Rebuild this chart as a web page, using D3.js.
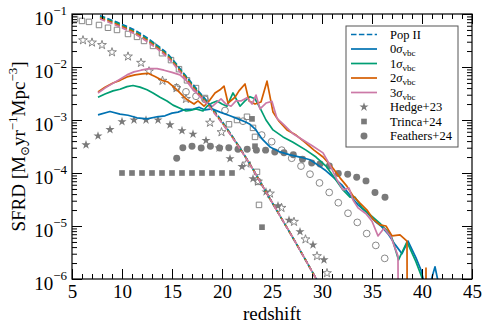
<!DOCTYPE html>
<html>
<head>
<meta charset="utf-8">
<script src="https://cdn.jsdelivr.net/npm/d3@7"></script>
<style>
body { margin: 0; background: #fff; }
svg text { font-family: "Liberation Serif", "DejaVu Serif", serif; fill: #000; }
</style>
</head>
<body>
<script>
// Pop II (dashed), one curve per streaming velocity
var zPop = [7.8, 9.8, 11.5, 13.1, 14.8, 16.1, 17.3, 18.8, 20.5, 22.5, 25.0, 27.5, 29.5, 30.3];
var pop0 = [9.3e-2, 6.6e-2, 4.7e-2, 2.95e-2, 1.58e-2, 7.9e-3, 4.2e-3, 1.91e-3, 6.9e-4, 1.82e-4, 2.8e-5, 4.4e-6, 9.5e-7, 5.2e-7];
var pop1 = [8.9e-2, 6.3e-2, 4.4e-2, 2.8e-2, 1.5e-2, 7.6e-3, 3.98e-3, 1.82e-3, 6.8e-4, 1.8e-4, 2.8e-5, 4.4e-6, 9.5e-7, 5.2e-7];
var pop2 = [8.5e-2, 6.0e-2, 4.2e-2, 2.65e-2, 1.43e-2, 7.2e-3, 3.76e-3, 1.76e-3, 6.6e-4, 1.79e-4, 2.8e-5, 4.4e-6, 9.5e-7, 5.2e-7];
var pop3 = [8.05e-2, 5.69e-2, 3.98e-2, 2.51e-2, 1.35e-2, 6.8e-3, 3.55e-3, 1.70e-3, 6.5e-4, 1.78e-4, 2.8e-5, 4.4e-6, 9.5e-7, 5.2e-7];

// Pop III, 0 sigma_vbc
var z0 = [7.6, 8.8, 9.8, 10.6, 11.5, 12.5, 13.5, 14.3, 15.0, 15.6, 16.3, 17.0, 17.7, 18.3, 19.0, 19.8, 20.8, 21.6, 22.3, 22.8,
    23.4, 24.0, 24.8, 25.8, 26.8, 27.8, 28.8, 29.6, 30.4, 31.2, 32.0, 32.8, 33.6, 34.5, 35.3, 35.9, 36.6, 37.3, 38.0, 38.6,
    39.4, 39.9, 40.5, 41.3, 42.0];
var s0 = [1.25e-3, 1.45e-3, 1.29e-3, 1.23e-3, 1.10e-3, 1.05e-3, 1.15e-3, 1.20e-3, 1.35e-3, 1.41e-3, 1.58e-3, 1.58e-3, 1.74e-3, 1.55e-3, 1.62e-3, 1.41e-3, 1.20e-3, 1.05e-3, 9.3e-4, 8.3e-4,
    6.5e-4, 4.4e-4, 3.1e-4, 2.5e-4, 2.2e-4, 2.0e-4, 1.78e-4, 1.41e-4, 1.10e-4, 8.1e-5, 5.9e-5, 3.8e-5, 2.5e-5, 1.78e-5, 1.23e-5, 1.0e-5, 7.1e-6, 4.5e-6, 3.0e-6, 5.2e-6,
    2.5e-6, 1.48e-6, 5e-7, 1.7e-6, 4e-7];

// 1 sigma_vbc
var z1 = [7.6, 8.3, 9.1, 9.8, 10.5, 11.1, 11.8, 12.5, 13.1, 13.8, 14.5, 15.1, 15.8, 16.4, 16.8, 17.4, 18.1, 18.5, 19.0, 19.5,
    20.0, 20.5, 21.1, 21.8, 22.3, 22.8, 23.3, 23.8, 24.4, 25.1, 26.1, 27.1, 28.4, 29.4, 30.4, 31.2, 32.1, 32.8, 33.3, 34.0,
    35.0, 35.8, 36.6, 37.0, 37.65, 38.5, 39.4, 40.1, 40.6];
var s1 = [2.69e-3, 3.09e-3, 3.55e-3, 3.80e-3, 4.27e-3, 4.47e-3, 4.17e-3, 3.72e-3, 3.24e-3, 2.69e-3, 2.29e-3, 1.91e-3, 1.66e-3, 1.48e-3, 1.51e-3, 1.62e-3, 1.48e-3, 1.82e-3, 2.09e-3, 2.29e-3,
    2.0e-3, 1.82e-3, 3.24e-3, 1.82e-3, 2.29e-3, 2.75e-3, 2.51e-3, 1.70e-3, 1.0e-3, 6.5e-4, 4.8e-4, 3.8e-4, 2.7e-4, 2.0e-4, 1.35e-4, 8.3e-5, 4.8e-5, 3.5e-5, 3.5e-5, 2.2e-5,
    1.51e-5, 1.12e-5, 7.8e-6, 5.9e-6, 2.3e-6, 5.0e-6, 2.1e-6, 9.5e-7, 0];

// 2 sigma_vbc
var z2 = [7.6, 8.3, 9.1, 9.8, 10.5, 11.3, 12.0, 12.6, 13.3, 14.0, 14.6, 15.2, 15.8, 16.4, 16.8, 17.2, 17.6, 18.2, 18.8, 19.3,
    19.8, 20.2, 20.6, 21.3, 21.7, 22.3, 22.7, 23.3, 23.9, 24.5, 25.1, 25.7, 26.5, 27.4, 28.3, 29.2, 30.1, 31.1, 31.8, 32.5,
    33.1, 33.8, 34.5, 35.1, 35.8, 36.4, 37.0, 37.8, 38.5, 38.55, 40.35, 40.4, 40.45];
var s2 = [3.39e-3, 4.17e-3, 5.0e-3, 5.6e-3, 6.5e-3, 7.1e-3, 7.4e-3, 7.6e-3, 6.6e-3, 5.6e-3, 5.2e-3, 4.17e-3, 3.24e-3, 2.51e-3, 2.24e-3, 2.0e-3, 2.29e-3, 1.82e-3, 2.40e-3, 3.24e-3,
    3.72e-3, 4.37e-3, 2.09e-3, 2.69e-3, 3.55e-3, 4.79e-3, 2.29e-3, 2.0e-3, 2.19e-3, 5.4e-3, 1.41e-3, 9.5e-4, 6.5e-4, 5.2e-4, 3.8e-4, 2.7e-4, 2.0e-4, 1.23e-4, 8.1e-5, 5.6e-5,
    3.7e-5, 2.7e-5, 2.0e-5, 1.35e-5, 1.05e-5, 1.0e-5, 6.5e-6, 6.8e-6, 5.2e-6, 0, 0, 1.6e-6, 0];

// 3 sigma_vbc
var z3 = [7.6, 8.3, 9.0, 9.8, 10.5, 11.2, 11.9, 12.7, 13.5, 14.2, 15.0, 15.8, 16.4, 17.1, 17.8, 18.5, 19.0, 19.4, 19.9, 20.4,
    20.9, 21.4, 21.9, 22.5, 23.0, 23.4, 23.8, 24.4, 25.0, 25.5, 26.2, 27.1, 28.1, 29.1, 30.1, 30.8, 31.5, 32.1, 32.7, 33.1,
    33.6, 34.4, 35.0, 35.6, 36.2, 36.9, 37.6, 37.65];
var s3 = [3.24e-3, 4.0e-3, 4.8e-3, 5.9e-3, 7.1e-3, 8.1e-3, 8.7e-3, 9.3e-3, 9.3e-3, 8.7e-3, 7.9e-3, 7.1e-3, 5.6e-3, 3.72e-3, 2.82e-3, 2.19e-3, 1.78e-3, 2.09e-3, 2.51e-3, 2.0e-3,
    1.82e-3, 2.29e-3, 2.29e-3, 2.63e-3, 2.0e-3, 2.95e-3, 1.62e-3, 2.09e-3, 2.24e-3, 1.07e-3, 8.1e-4, 5.5e-4, 4.2e-4, 3.2e-4, 2.4e-4, 1.4e-4, 7.4e-5, 4.8e-5, 5.2e-5, 3.1e-5,
    2.2e-5, 1.7e-5, 1.23e-5, 6.5e-6, 9.1e-6, 6.2e-6, 2.7e-6, 0];

// Hedge+23 (filled stars) and the open-star counterpart
var zHedge = [6.4, 7.6, 8.8, 10.0, 11.2, 12.4, 13.6, 14.8, 16.0, 17.1, 18.4, 19.7, 20.8, 22.0, 23.1, 24.4, 25.6, 26.7, 27.8, 29.1, 30.2];
var vHedge = [3.4e-4, 5.0e-4, 6.6e-4, 9.3e-4, 1.0e-3, 1.0e-3, 1.0e-3, 8.1e-4, 6.3e-4, 5.4e-4, 4.1e-4, 2.95e-4, 1.86e-4, 1.32e-4, 7.8e-5, 4.4e-5, 2.4e-5, 1.29e-5, 7.8e-6, 4.4e-6, 2.3e-6];
var zHedgeOpen = [6.1, 7.0, 8.0, 9.0, 10.6, 11.9, 12.7, 14.05, 15.45, 16.4, 18.8, 19.95, 22.45, 23.6, 24.8, 25.95, 27.2, 28.35, 29.5, 30.5];
var vHedgeOpen = [3.2e-2, 2.9e-2, 2.6e-2, 1.9e-2, 1.58e-2, 1.2e-2, 8.3e-3, 5.5e-3, 4.0e-3, 2.5e-3, 8.9e-4, 5.9e-4, 1.51e-4, 6.9e-5, 4.1e-5, 2.2e-5, 1.2e-5, 5.6e-6, 2.7e-6, 1.29e-6];

// Trinca+24 (filled squares) and open squares
var zTrinca = [10, 11, 12, 13, 14, 15, 16, 17, 18, 19, 20, 21, 23.0, 23.3, 24.0];
var vTrinca = [1e-4, 1e-4, 1e-4, 1e-4, 1e-4, 1e-4, 1e-4, 1e-4, 1e-4, 1e-4, 1e-4, 1e-4, 1.05e-3, 3.2e-4, 9.5e-6];
var zTrincaOpen = [5.3, 6.0, 6.7, 7.7, 8.6, 9.5, 10.6, 11.5, 12.2, 13.1, 14.0, 14.9, 15.7, 16.5, 17.4, 18.3, 20.7, 21.5, 22.5, 23.1, 23.3, 23.5, 23.6, 23.7];
var vTrincaOpen = [8.05e-2, 7.4e-2, 7.1e-2, 6.2e-2, 5.5e-2, 5.0e-2, 4.2e-2, 3.7e-2, 3.1e-2, 2.5e-2, 1.82e-2, 1.35e-2, 9.1e-3, 5.6e-3, 4.0e-3, 2.6e-3, 8.3e-4, 1.0e-3, 1.15e-3, 7.1e-4, 4.8e-4, 1.05e-4, 6.8e-5, 2.5e-5];

// Feathers+24 (filled circles) and open circles
var zFeathers = [15.47, 16.08, 17.0, 17.92, 18.84, 19.76, 20.68, 21.6, 22.52, 23.44, 24.36, 25.28, 26.2, 27.13, 28.05, 28.97, 29.8, 30.73, 31.63, 32.57, 33.47, 34.4, 35.3, 36.3];
var vFeathers = [1.9e-4, 3.0e-4, 3.2e-4, 2.95e-4, 3.2e-4, 2.95e-4, 3.0e-4, 2.8e-4, 2.8e-4, 2.7e-4, 2.7e-4, 2.5e-4, 2.4e-4, 2.2e-4, 1.82e-4, 1.55e-4, 1.48e-4, 1.35e-4, 9.8e-5, 9.5e-5, 8.3e-5, 7.1e-5, 4.3e-5, 3.5e-5];
var zFeathersOpen = [15.45, 16.4, 17.4, 18.3, 20.3, 22.1, 23.97, 24.97, 25.97, 26.97, 27.9, 28.8, 29.75, 30.72, 31.63, 32.6, 33.53, 34.47, 35.38, 36.27];
var vFeathersOpen = [4.1e-3, 3.4e-3, 2.8e-3, 2.45e-3, 1.51e-3, 9.5e-4, 5.2e-4, 3.9e-4, 2.7e-4, 1.9e-4, 1.35e-4, 9.5e-5, 6.5e-5, 4.3e-5, 2.75e-5, 1.74e-5, 1.17e-5, 7.2e-6, 4.3e-6, 2.45e-6];

var xTicks = [5, 10, 15, 20, 25, 30, 35, 40, 45];
var yTicks = [1e-6, 1e-5, 1e-4, 1e-3, 1e-2, 1e-1];

var colors = ['#0072B2', '#009E73', '#D55E00', '#CC79A7'];
var gray = '#7a7a7a';

var w = 488, h = 330;
var pLeft = 72, pRight = 472, pTop = 14, pBottom = 279;

var x = d3.scaleLinear().domain([5, 45]).range([pLeft, pRight]);
var y = d3.scaleLog().domain([1e-6, 1e-1]).range([pBottom, pTop]);

// zeros in the runs are drawn off the bottom of the axes
function yv(v) { return y(Math.max(v, 1e-9)); }

var svg = d3.select("body").append("svg")
    .attr("width", w)
    .attr("height", h);

svg.append("defs").append("clipPath").attr("id", "plot")
    .append("rect")
    .attr("x", pLeft).attr("y", pTop)
    .attr("width", pRight - pLeft).attr("height", pBottom - pTop);

var plot = svg.append("g").attr("clip-path", "url(#plot)");

// markers
function markers(zs, vs, type, size, filled) {
    plot.append("g").selectAll("path")
        .data(d3.zip(zs, vs))
        .enter().append("path")
        .attr("transform", function (d) { return "translate(" + x(d[0]) + "," + yv(d[1]) + ")"; })
        .attr("d", d3.symbol().type(type).size(size))
        .attr("fill", filled ? gray : "none")
        .attr("stroke", filled ? "none" : gray)
        .attr("stroke-width", 0.9);
}
markers(zHedgeOpen, vHedgeOpen, d3.symbolStar, 24, false);
markers(zTrincaOpen, vTrincaOpen, d3.symbolSquare, 30, false);
markers(zFeathersOpen, vFeathersOpen, d3.symbolCircle, 36, false);
markers(zHedge, vHedge, d3.symbolStar, 26, true);
markers(zTrinca, vTrinca, d3.symbolSquare, 32, true);
markers(zFeathers, vFeathers, d3.symbolCircle, 38, true);

// lines
var line = d3.line()
    .x(function (d) { return x(d[0]); })
    .y(function (d) { return yv(d[1]); });
var smooth = d3.line()
    .x(function (d) { return x(d[0]); })
    .y(function (d) { return yv(d[1]); })
    .curve(d3.curveMonotoneX);

[[z0, s0], [z1, s1], [z2, s2], [z3, s3]].forEach(function (s, i) {
    plot.append("path")
        .attr("d", line(d3.zip(s[0], s[1])))
        .attr("fill", "none")
        .attr("stroke", colors[i])
        .attr("stroke-width", 1.7)
        .attr("stroke-linejoin", "round");
});
[pop0, pop1, pop2, pop3].forEach(function (s, i) {
    plot.append("path")
        .attr("d", smooth(d3.zip(zPop, s)))
        .attr("fill", "none")
        .attr("stroke", colors[i])
        .attr("stroke-width", 1.7)
        .attr("stroke-dasharray", "5.5,2.4");
});

// axes, ticks inward on all four sides
var xMinor = d3.range(5, 46, 1).filter(function (v) { return v % 5 !== 0; });
var yMinor = [];
d3.range(-6, -1).forEach(function (k) {
    d3.range(2, 10).forEach(function (m) { yMinor.push(m * Math.pow(10, k)); });
});

function axis(maker, pos, ticks, size, labels) {
    var a = maker.tickValues(ticks).tickSizeInner(-size).tickSizeOuter(0).tickPadding(labels ? 6 : 0);
    if (!labels) a.tickFormat("");
    var g = svg.append("g").attr("transform", pos).call(a);
    g.select(".domain").remove();
    g.selectAll(".tick line").attr("stroke", "#000").attr("stroke-width", 1);
    return g;
}

var gx = axis(d3.axisBottom(x), "translate(0," + pBottom + ")", xTicks, 10, true);
gx.selectAll(".tick text").attr("font-size", 19).attr("font-family", "Liberation Serif").attr("dy", "0.68em");
axis(d3.axisBottom(x), "translate(0," + pBottom + ")", xMinor, 5, false);
axis(d3.axisTop(x), "translate(0," + pTop + ")", xTicks, 10, false);
axis(d3.axisTop(x), "translate(0," + pTop + ")", xMinor, 5, false);

var gy = axis(d3.axisLeft(y).tickFormat(""), "translate(" + pLeft + ",0)", yTicks, 10, true);
gy.selectAll(".tick text")
    .attr("font-family", "Liberation Serif")
    .attr("font-size", 19)
    .attr("dy", "0.57em")
    .attr("x", -5)
    .each(function (d) {
        var t = d3.select(this);
        t.append("tspan").text("10");
        t.append("tspan").attr("dy", -10).attr("font-size", 13)
            .text("\u2212" + (-Math.round(Math.log10(d))));
    });
axis(d3.axisLeft(y), "translate(" + pLeft + ",0)", yMinor, 5, false);
axis(d3.axisRight(y), "translate(" + pRight + ",0)", yTicks, 10, false);
axis(d3.axisRight(y), "translate(" + pRight + ",0)", yMinor, 5, false);

svg.append("rect")
    .attr("x", pLeft).attr("y", pTop)
    .attr("width", pRight - pLeft).attr("height", pBottom - pTop)
    .attr("fill", "none").attr("stroke", "#000").attr("stroke-width", 1.2);

// axis labels
svg.append("text")
    .attr("x", (pLeft + pRight) / 2).attr("y", 320)
    .attr("text-anchor", "middle").attr("font-size", 19)
    .text("redshift");

var yl = svg.append("text")
    .attr("transform", "translate(25," + (pTop + pBottom) / 2 + ") rotate(-90)")
    .attr("text-anchor", "middle").attr("font-size", 19);
yl.append("tspan").text("SFRD [M");
yl.append("tspan").attr("dy", 4).attr("font-size", 12).text("\u2299");
yl.append("tspan").attr("dy", -4).text("yr");
yl.append("tspan").attr("dy", -8).attr("font-size", 13).text("\u22121");
yl.append("tspan").attr("dy", 8).text("Mpc");
yl.append("tspan").attr("dy", -8).attr("font-size", 13).text("\u22123");
yl.append("tspan").attr("dy", 8).text("]");

// legend
var leg = svg.append("g");
leg.append("rect")
    .attr("x", 346).attr("y", 26).attr("width", 112).attr("height", 121)
    .attr("fill", "#fff").attr("stroke", "#555").attr("stroke-width", 1);

var legLines = [
    {label: "Pop II", color: colors[0], dash: true},
    {label: "0", sub: true, color: colors[0]},
    {label: "1", sub: true, color: colors[1]},
    {label: "2", sub: true, color: colors[2]},
    {label: "3", sub: true, color: colors[3]}
];
var legMarks = [
    {label: "Hedge+23", type: d3.symbolStar, size: 26},
    {label: "Trinca+24", type: d3.symbolSquare, size: 32},
    {label: "Feathers+24", type: d3.symbolCircle, size: 38}
];
var row = function (i) { return 34.5 + i * 14.5; };

legLines.forEach(function (d, i) {
    leg.append("line")
        .attr("x1", 351).attr("x2", 377).attr("y1", row(i)).attr("y2", row(i))
        .attr("stroke", d.color).attr("stroke-width", 1.7)
        .attr("stroke-dasharray", d.dash ? "5.5,2.4" : null);
    var t = leg.append("text").attr("x", 390).attr("y", row(i)).attr("dy", "0.35em").attr("font-size", 12.5);
    if (d.sub) {
        t.append("tspan").text(d.label);
        t.append("tspan").attr("font-style", "italic").text("\u03c3");
        t.append("tspan").attr("font-size", 9).attr("dy", 3).text("vbc");
    } else {
        t.text(d.label);
    }
});
legMarks.forEach(function (d, j) {
    var i = j + legLines.length;
    leg.append("path")
        .attr("transform", "translate(364," + row(i) + ")")
        .attr("d", d3.symbol().type(d.type).size(d.size))
        .attr("fill", gray);
    leg.append("text").attr("x", 390).attr("y", row(i)).attr("dy", "0.35em").attr("font-size", 12.5)
        .text(d.label);
});
</script>
</body>
</html>
